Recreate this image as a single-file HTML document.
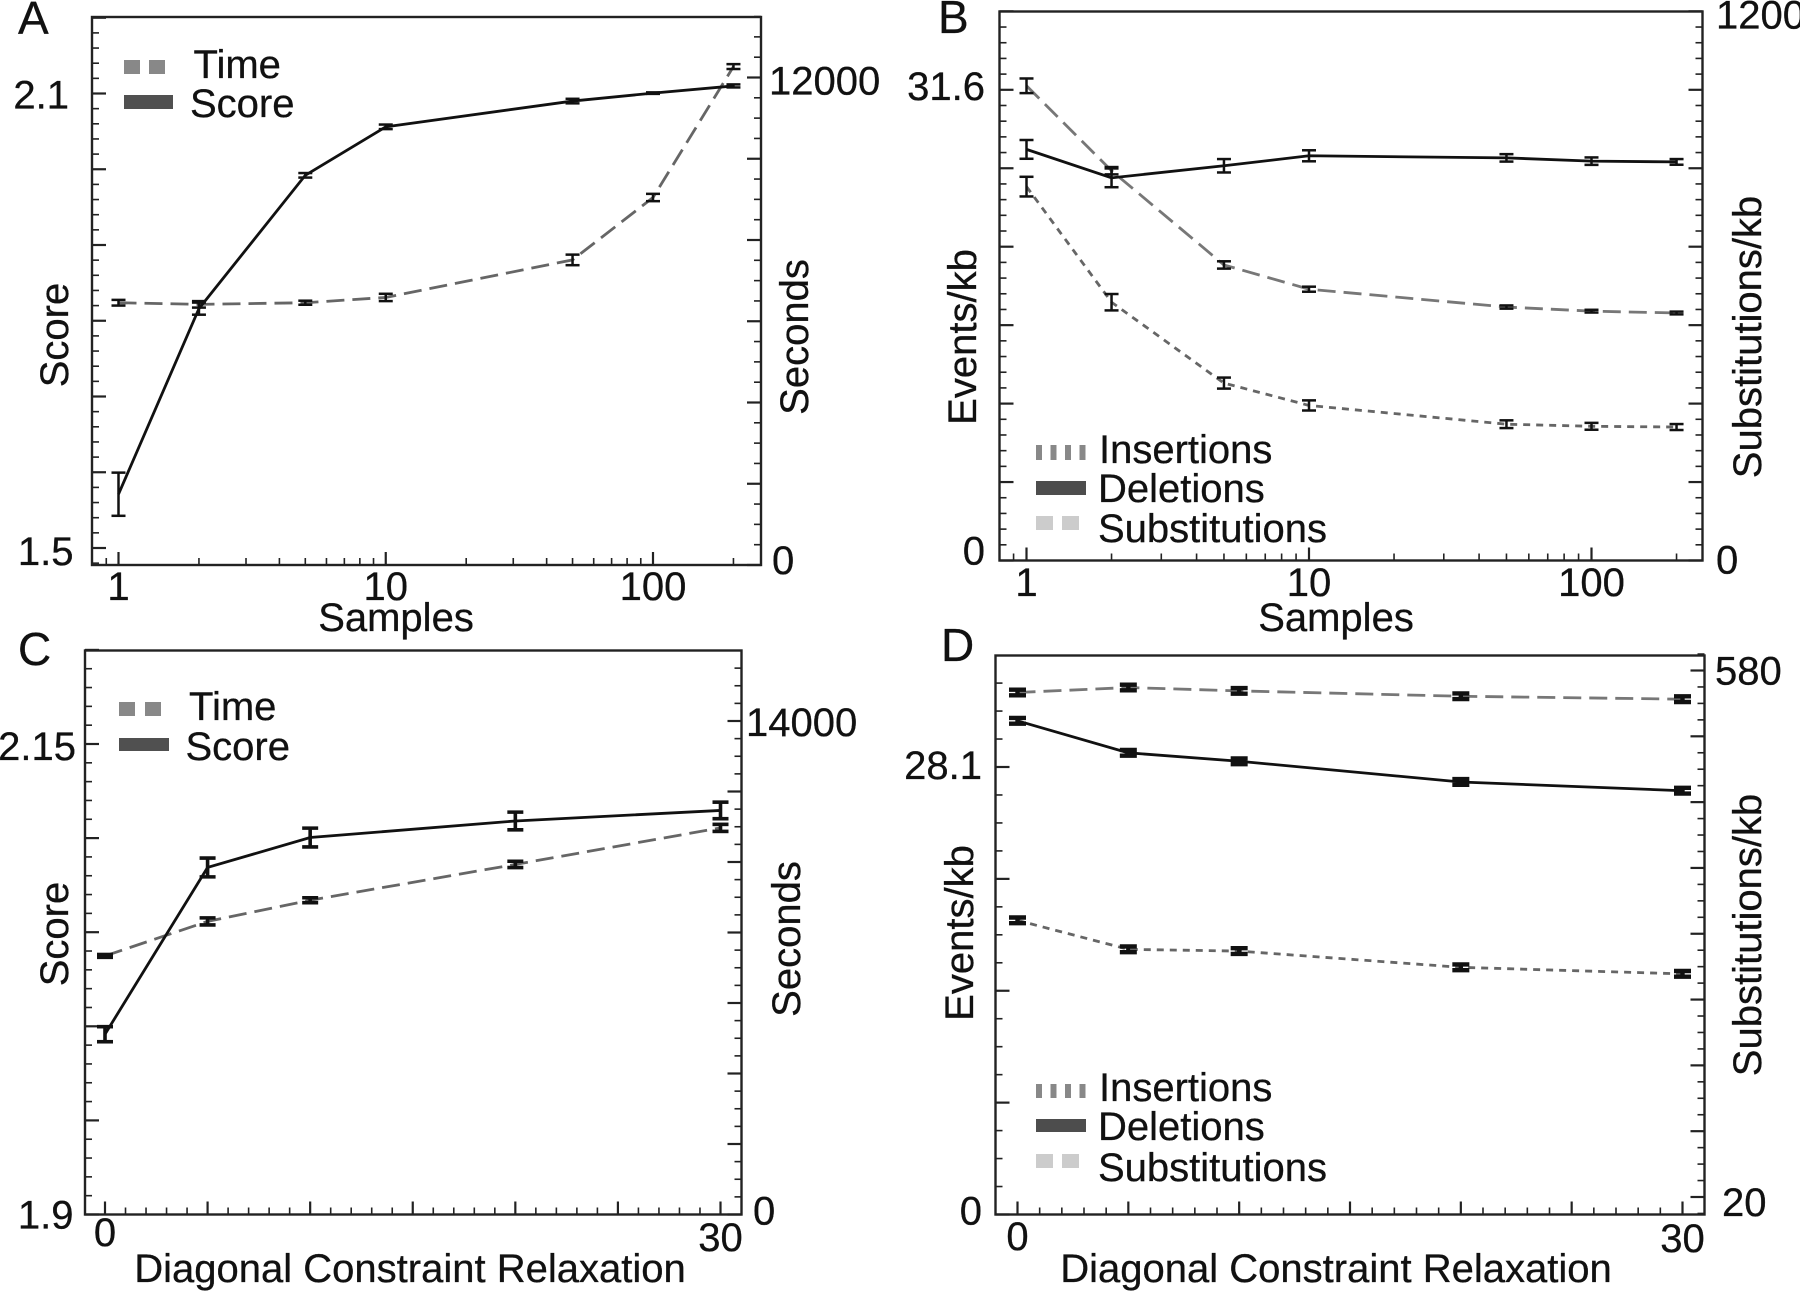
<!DOCTYPE html>
<html>
<head>
<meta charset="utf-8">
<title>Four panel alignment metrics chart</title>
<style>
html,body{margin:0;padding:0;background:#fff;}
svg{display:block;}
text{font-family:"Liberation Sans",sans-serif;font-size:40px;fill:#111;stroke:#111;stroke-width:0.3;}
.letter{font-size:46px;}
.frame{fill:none;stroke:#222;stroke-width:2.4;}
</style>
</head>
<body>
<svg id="figure" xmlns="http://www.w3.org/2000/svg" width="1800" height="1292" viewBox="0 0 1800 1292">
  <rect x="0" y="0" width="1800" height="1292" fill="#fff"/>

  <g id="panel-a">
    <text class="letter" x="18" y="34">A</text>
    <rect class="frame" x="92" y="17" width="669" height="548"/>
    <text x="68" y="335" text-anchor="middle" transform="rotate(-90 68 335)">Score</text>
    <text x="808" y="337" text-anchor="middle" transform="rotate(-90 808 337)">Seconds</text>
    <text x="396" y="631" text-anchor="middle">Samples</text>
    <g>
      <rect x="124" y="60" width="16" height="14" fill="#888"/>
      <rect x="149" y="60" width="16" height="14" fill="#888"/>
      <text x="193.5" y="78">Time</text>
      <rect x="124" y="95" width="49" height="14" fill="#505050"/>
      <text x="190" y="117">Score</text>
    </g>
  </g>

  <g id="panel-b">
    <text class="letter" x="938" y="33">B</text>
    <rect class="frame" x="999.5" y="11.5" width="703" height="549"/>
    <text x="976" y="337" text-anchor="middle" transform="rotate(-90 976 337)">Events/kb</text>
    <text x="1761" y="337" text-anchor="middle" transform="rotate(-90 1761 337)">Substitutions/kb</text>
    <text x="1336" y="631" text-anchor="middle">Samples</text>
    <g>
      <rect x="1036" y="445" width="6" height="15" fill="#888"/>
      <rect x="1050.5" y="445" width="6" height="15" fill="#888"/>
      <rect x="1065" y="445" width="6" height="15" fill="#888"/>
      <rect x="1079.5" y="445" width="6" height="15" fill="#888"/>
      <text x="1099" y="463">Insertions</text>
      <rect x="1036" y="481" width="50" height="14" fill="#4d4d4d"/>
      <text x="1098" y="502">Deletions</text>
      <rect x="1036" y="516" width="17" height="14" fill="#ccc"/>
      <rect x="1062" y="516" width="17" height="14" fill="#ccc"/>
      <text x="1098" y="542">Substitutions</text>
    </g>
  </g>

  <g id="panel-c">
    <text class="letter" x="18" y="665">C</text>
    <rect class="frame" x="85" y="650.5" width="656.5" height="564"/>
    <text x="68" y="934" text-anchor="middle" transform="rotate(-90 68 934)">Score</text>
    <text x="800" y="939" text-anchor="middle" transform="rotate(-90 800 939)">Seconds</text>
    <text x="410" y="1282" text-anchor="middle">Diagonal Constraint Relaxation</text>
    <g>
      <rect x="119" y="702" width="16" height="14" fill="#888"/>
      <rect x="145" y="702" width="16" height="14" fill="#888"/>
      <text x="189" y="720">Time</text>
      <rect x="119" y="738" width="50" height="13" fill="#505050"/>
      <text x="185.5" y="760">Score</text>
    </g>
  </g>

  <g id="panel-d">
    <text class="letter" x="941" y="661">D</text>
    <rect class="frame" x="995.5" y="655.5" width="709" height="559"/>
    <text x="973" y="933" text-anchor="middle" transform="rotate(-90 973 933)">Events/kb</text>
    <text x="1761" y="935" text-anchor="middle" transform="rotate(-90 1761 935)">Substitutions/kb</text>
    <text x="1336" y="1282" text-anchor="middle">Diagonal Constraint Relaxation</text>
    <g>
      <rect x="1036" y="1084" width="6" height="14" fill="#888"/>
      <rect x="1050.5" y="1084" width="6" height="14" fill="#888"/>
      <rect x="1065" y="1084" width="6" height="14" fill="#888"/>
      <rect x="1079.5" y="1084" width="6" height="14" fill="#888"/>
      <text x="1099" y="1101">Insertions</text>
      <rect x="1036" y="1119" width="50" height="13" fill="#4d4d4d"/>
      <text x="1098" y="1140">Deletions</text>
      <rect x="1036" y="1154" width="17" height="14" fill="#ccc"/>
      <rect x="1062" y="1154" width="17" height="14" fill="#ccc"/>
      <text x="1098" y="1181">Substitutions</text>
    </g>
  </g>
</svg>

<script>
// ---------- Panel A data ----------
const aSamples = [1, 2, 5, 10, 50, 100, 200];
const aScore = [1.571, 1.816, 1.992, 2.056, 2.090, 2.1005, 2.110];
const aScoreErr = [0.0285, 0.008, 0.003, 0.003, 0.003, 0.001, 0.002];
const aTime = [6456, 6416, 6456, 6586, 7510, 9046, 12269];
const aTimeErr = [70, 80, 50, 90, 130, 90, 60];
const aLeftLabels = ["2.1", "1.5"];
const aLeftValues = [2.1, 1.5];
const aRightLabels = ["12000", "0"];
const aRightValues = [12000, 0];
const aXLabels = ["1", "10", "100"];
const aXValues = [1, 10, 100];

// ---------- Panel B data ----------
const bSamples = [1, 2, 5, 10, 50, 100, 200];
const bDeletions = [27.6, 25.69, 26.5, 27.17, 27.03, 26.81, 26.76];
const bDeletionsErr = [0.63, 0.63, 0.45, 0.37, 0.25, 0.25, 0.19];
const bInsertions = [25.1, 17.34, 11.91, 10.41, 9.15, 9.01, 8.96];
const bInsertionsErr = [0.66, 0.55, 0.37, 0.34, 0.26, 0.23, 0.2];
const bSubstitutions = [1037.6, 852, 646, 593, 554, 545, 541];
const bSubstitutionsErr = [16, 8, 8, 5.5, 3.5, 3, 3];
const bLeftLabels = ["31.6", "0"];
const bLeftValues = [31.6, 0];
const bRightLabels = ["1200", "0"];
const bRightValues = [1200, 0];
const bXLabels = ["1", "10", "100"];
const bXValues = [1, 10, 100];

// ---------- Panel C data ----------
const cRelax = [0, 5, 10, 20, 30];
const cScore = [1.9958, 2.0844, 2.1003, 2.1091, 2.1147];
const cScoreErr = [0.004, 0.005, 0.005, 0.0047, 0.0044];
const cTime = [7336, 8315, 8916, 9931, 10968];
const cTimeErr = [40, 100, 70, 90, 100];
const cLeftLabels = ["2.15", "1.9"];
const cLeftValues = [2.15, 1.9];
const cRightLabels = ["14000", "0"];
const cRightValues = [14000, 0];
const cXLabels = ["0", "30"];
const cXValues = [0, 30];

// ---------- Panel D data ----------
const dRelax = [0, 5, 10, 20, 30];
const dInsertions = [18.47, 16.65, 16.54, 15.52, 15.11];
const dInsertionsErr = [0.18, 0.18, 0.18, 0.18, 0.18];
const dDeletions = [31.0, 28.99, 28.46, 27.16, 26.61];
const dDeletionsErr = [0.18, 0.18, 0.18, 0.18, 0.18];
const dSubstitutions = [556.6, 561.9, 558.3, 552.6, 549.5];
const dSubstitutionsErr = [3, 3, 3, 3, 3];
const dLeftLabels = ["28.1", "0"];
const dLeftValues = [28.1, 0];
const dRightLabels = ["580", "20"];
const dRightValues = [580, 20];
const dXLabels = ["0", "30"];
const dXValues = [0, 30];

const NS = "http://www.w3.org/2000/svg";

function linScale(v0, p0, v1, p1) {
  return function (v) { return p0 + (v - v0) * (p1 - p0) / (v1 - v0); };
}
function logScale(v0, p0, v1, p1) {
  return function (v) { return p0 + (Math.log10(v) - Math.log10(v0)) * (p1 - p0) / (Math.log10(v1) - Math.log10(v0)); };
}

function drawLine(parent, x1, y1, x2, y2, width, color, name) {
  const el = document.createElementNS(NS, "line");
  el.setAttribute("x1", x1);
  el.setAttribute("y1", y1);
  el.setAttribute("x2", x2);
  el.setAttribute("y2", y2);
  el.setAttribute("stroke", color);
  el.setAttribute("stroke-width", width);
  
  
  parent.appendChild(el);
}

function drawLabel(parent, x, y, anchor, str, name) {
  const el = document.createElementNS(NS, "text");
  el.setAttribute("x", x);
  el.setAttribute("y", y);
  el.setAttribute("text-anchor", anchor);
  el.textContent = str;
  
  
  parent.appendChild(el);
}

// step-based y ticks spanning the frame
function yTicks(parent, edge, dir, scale, start, major, subs, vLow, vHigh, name) {
  const minor = major / subs;
  const n = Math.round((vHigh - start) / minor);
  const m = Math.round((start - vLow) / minor);
  for (let i = -m; i <= n; i++) {
    const v = start + i * minor;
    const py = scale(v);
    const isMajor = ((i % subs) + subs) % subs === 0;
    drawLine(parent, edge, py, edge + dir * (isMajor ? 14 : 7), py, isMajor ? 2.2 : 1.6, "#222", name);
  }
}

function xTicksLog(parent, scale, bottom, maxV, name) {
  for (let d = 1; d <= 100; d *= 10) {
    for (let k = 1; k <= 9; k++) {
      const v = d * k;
      if (v > maxV) continue;
      const major = k === 1;
      drawLine(parent, scale(v), bottom, scale(v), bottom - (major ? 13 : 7), major ? 2.2 : 1.6, "#222", name);
    }
  }
  drawLine(parent, scale(0.9), bottom, scale(0.9), bottom - 7, 1.6, "#222", name);
}

function xTicksLin(parent, scale, bottom, name) {
  for (let v = 0; v <= 30; v++) {
    const major = v % 5 === 0;
    drawLine(parent, scale(v), bottom, scale(v), bottom - (major ? 13 : 7), major ? 2.2 : 1.6, "#222", name);
  }
}

function drawSeries(parent, xs, ys, errs, sx, sy, color, dash, capHalf, errWidth, name) {
  const el = document.createElementNS(NS, "polyline");
  el.setAttribute("points", xs.map(function (x, i) { return sx(x) + "," + sy(ys[i]); }).join(" "));
  el.setAttribute("fill", "none");
  el.setAttribute("stroke", color);
  el.setAttribute("stroke-width", 2.8);
  if (dash) el.setAttribute("stroke-dasharray", dash);
  
  
  parent.appendChild(el);
  xs.forEach(function (x, i) {
    const px = sx(x);
    const hi = sy(ys[i] + errs[i]);
    const lo = sy(ys[i] - errs[i]);
    drawLine(parent, px, hi, px, lo, errWidth, "#111", name + "-error-bar");
    drawLine(parent, px - capHalf, hi, px + capHalf, hi, errWidth, "#111", name + "-error-cap-high");
    drawLine(parent, px - capHalf, lo, px + capHalf, lo, errWidth, "#111", name + "-error-cap-low");
  });
}

const LONG = "18 8";
const SHORT = "7 6";

// ---------- Panel A ----------
(function () {
  const g = document.getElementById("panel-a");
  const x = logScale(1, 118.5, 100, 653);
  const yL = linScale(1.5, 548, 2.1, 93.5);
  const yR = linScale(0, 565, 12000, 77.5);
  yTicks(g, 92, 1, yL, 1.5, 0.1, 5, 1.48, 2.19, "left-axis-tick");
  yTicks(g, 761, -1, yR, 0, 2000, 4, 0, 13500, "right-axis-tick");
  xTicksLog(g, x, 565, 200, "x-axis-tick");
  drawSeries(g, aSamples, aTime, aTimeErr, x, yR, "#666", LONG, 7, 2.5, "time-series");
  drawSeries(g, aSamples, aScore, aScoreErr, x, yL, "#111", null, 7, 2.5, "score-series");
  const dy = [15, 17];
  const right = [69, 73.5];
  aLeftValues.forEach(function (v, i) { drawLabel(g, right[i], yL(v) + dy[i], "end", aLeftLabels[i], "left-tick-label"); });
  const rdy = [17, 9];
  const rx = [769, 772];
  aRightValues.forEach(function (v, i) { drawLabel(g, rx[i], yR(v) + rdy[i], "start", aRightLabels[i], "right-tick-label"); });
  aXValues.forEach(function (v, i) { drawLabel(g, x(v), 600, "middle", aXLabels[i], "x-tick-label"); });
})();

// ---------- Panel B ----------
(function () {
  const g = document.getElementById("panel-b");
  const x = logScale(1, 1026.5, 100, 1591.5);
  const yL = linScale(0, 560.5, 31.6, 89.8);
  const yR = linScale(0, 560.5, 1200, 11.5);
  yTicks(g, 999.5, 1, yL, 0, 31.6 / 6, 5, 0, 36.8, "left-axis-tick");
  yTicks(g, 1702.5, -1, yL, 0, 31.6 / 6, 5, 0, 36.8, "right-axis-tick");
  xTicksLog(g, x, 560.5, 200, "x-axis-tick");
  drawSeries(g, bSamples, bSubstitutions, bSubstitutionsErr, x, yR, "#777", LONG, 7, 2.5, "substitutions-series");
  drawSeries(g, bSamples, bInsertions, bInsertionsErr, x, yL, "#666", SHORT, 7, 2.5, "insertions-series");
  drawSeries(g, bSamples, bDeletions, bDeletionsErr, x, yL, "#111", null, 7, 2.5, "deletions-series");
  const dy = [10, 4];
  bLeftValues.forEach(function (v, i) { drawLabel(g, 985, yL(v) + dy[i], "end", bLeftLabels[i], "left-tick-label"); });
  const rdy = [17, 13];
  bRightValues.forEach(function (v, i) { drawLabel(g, 1716, yR(v) + rdy[i], "start", bRightLabels[i], "right-tick-label"); });
  bXValues.forEach(function (v, i) { drawLabel(g, x(v), 596, "middle", bXLabels[i], "x-tick-label"); });
})();

// ---------- Panel C ----------
(function () {
  const g = document.getElementById("panel-c");
  const x = linScale(0, 105, 30, 720.5);
  const yL = linScale(1.9, 1214.5, 2.15, 744);
  const yR = linScale(0, 1214.5, 14000, 721);
  yTicks(g, 85, 1, yL, 1.9, 0.05, 5, 1.9, 2.198, "left-axis-tick");
  yTicks(g, 741.5, -1, yR, 0, 2000, 4, 0, 15600, "right-axis-tick");
  xTicksLin(g, x, 1214.5, "x-axis-tick");
  drawSeries(g, cRelax, cTime, cTimeErr, x, yR, "#666", LONG, 8, 3.6, "time-series");
  drawSeries(g, cRelax, cScore, cScoreErr, x, yL, "#111", null, 8, 3.6, "score-series");
  const dy = [16, 14];
  const right = [76, 73.5];
  cLeftValues.forEach(function (v, i) { drawLabel(g, right[i], yL(v) + dy[i], "end", cLeftLabels[i], "left-tick-label"); });
  const rdy = [15, 10];
  const rx = [746, 753];
  cRightValues.forEach(function (v, i) { drawLabel(g, rx[i], yR(v) + rdy[i], "start", cRightLabels[i], "right-tick-label"); });
  const by = [1246, 1251];
  cXValues.forEach(function (v, i) { drawLabel(g, x(v), by[i], "middle", cXLabels[i], "x-tick-label"); });
})();

// ---------- Panel D ----------
(function () {
  const g = document.getElementById("panel-d");
  const x = linScale(0, 1017.5, 30, 1682.5);
  const yL = linScale(0, 1214.5, 28.1, 767);
  const yR = linScale(20, 1197, 580, 670.5);
  yTicks(g, 995.5, 1, yL, 0, 28.1 / 4, 4, 0, 33.6, "left-axis-tick");
  yTicks(g, 1704.5, -1, yR, 20, 70, 4, 6, 595, "right-axis-tick");
  xTicksLin(g, x, 1214.5, "x-axis-tick");
  drawSeries(g, dRelax, dSubstitutions, dSubstitutionsErr, x, yR, "#777", LONG, 8.5, 4.4, "substitutions-series");
  drawSeries(g, dRelax, dInsertions, dInsertionsErr, x, yL, "#666", SHORT, 8.5, 4.4, "insertions-series");
  drawSeries(g, dRelax, dDeletions, dDeletionsErr, x, yL, "#111", null, 8.5, 4.4, "deletions-series");
  const dy = [12, 10];
  dLeftValues.forEach(function (v, i) { drawLabel(g, 982, yL(v) + dy[i], "end", dLeftLabels[i], "left-tick-label"); });
  const rdy = [14, 19];
  const rx = [1715, 1722];
  dRightValues.forEach(function (v, i) { drawLabel(g, rx[i], yR(v) + rdy[i], "start", dRightLabels[i], "right-tick-label"); });
  const by = [1250, 1252];
  dXValues.forEach(function (v, i) { drawLabel(g, x(v), by[i], "middle", dXLabels[i], "x-tick-label"); });
})();
</script>
</body>
</html>
